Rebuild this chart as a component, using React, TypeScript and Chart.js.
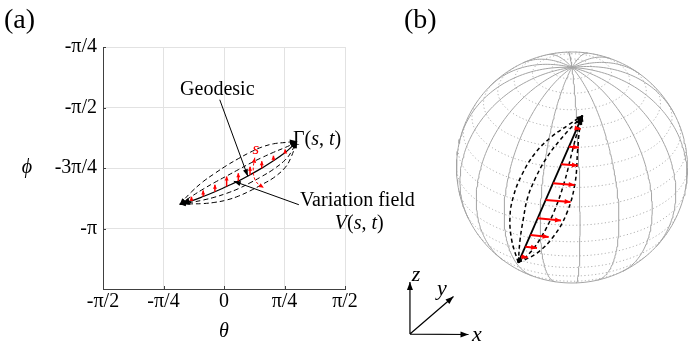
import React, { useEffect, useRef } from 'react';
import { Chart, registerables } from 'chart.js';

Chart.register(...registerables);

const SERIF = '"Liberation Serif", "Times New Roman", serif';
const PI4 = Math.PI / 4;

// ---------- Panel (a): axes ----------
const xTickUnits = [-2, -1, 0, 1, 2]; // multiples of pi/4
const xTickLabels = ['-π/2', '-π/4', '0', 'π/4', 'π/2'];
const yTickUnits = [-5, -4, -3, -2, -1];
const yTickLabels = ['', '-π', '-3π/4', '-π/2', '-π/4'];

// ---------- Panel (a): curves (theta, phi) ----------
const curveTheta = [-0.574, -0.422, -0.27, -0.118, 0.034, 0.186, 0.338, 0.49, 0.642, 0.794, 0.87, 0.946];
const geodesicPhi = [-2.826, -2.783, -2.727, -2.665, -2.596, -2.527, -2.445, -2.358, -2.263, -2.155, -2.088, -2.008];
const upperOuterPhi = [-2.826, -2.666, -2.532, -2.425, -2.324, -2.235, -2.153, -2.085, -2.042, -2.025, -2.017, -2.008];
const upperInnerPhi = [-2.826, -2.725, -2.63, -2.542, -2.46, -2.378, -2.296, -2.222, -2.153, -2.09, -2.055, -2.008];
const lowerInnerPhi = [-2.826, -2.802, -2.772, -2.734, -2.685, -2.625, -2.549, -2.466, -2.373, -2.252, -2.153, -2.008];
const lowerOuterPhi = [-2.826, -2.822, -2.818, -2.802, -2.772, -2.722, -2.653, -2.572, -2.484, -2.35, -2.218, -2.008];

// variation field vectors (red)
const redArrowTheta = [-0.422, -0.27, -0.118, 0.034, 0.186, 0.338, 0.49, 0.642, 0.794];
const redArrowBasePhi = [-2.783, -2.727, -2.665, -2.596, -2.527, -2.445, -2.358, -2.263, -2.155];
const redArrowTipPhi = [-2.731, -2.649, -2.574, -2.466, -2.423, -2.341, -2.267, -2.198, -2.116];

// red dashed "s" direction
const sCurveTheta = [0.4, 0.383, 0.381, 0.4, 0.452, 0.517];
const sCurvePhi = [-2.222, -2.32, -2.411, -2.502, -2.573, -2.612];

// annotation pointers
const geodesicPointerTheta = [-0.055, 0.309];
const geodesicPointerPhi = [-1.47, -2.463];
const variationPointerTheta = [0.972, 0.127];
const variationPointerPhi = [-2.833, -2.528];

// ---------- Panel (b): sphere ----------
const meridianLons = [0, 20, 40, 60, 80, 100, 120, 140, 160, 180, 200, 220, 240, 260, 280, 300, 320, 340];
const parallelLats = [-80, -70, -60, -50, -40, -30, -20, -10, 0, 10, 20, 30, 40, 50, 60, 70, 80];
const VIEW_EL = 30;
const VIEW_AZ = 4;

// curves on the sphere (projected, sphere radius = 1)
const geoU = [-0.465, -0.187, 0.091];
const geoV = [-0.824, -0.187, 0.45];
const outerLeftU = [-0.465, -0.522, -0.537, -0.508, -0.435, -0.32, -0.176, -0.032, 0.091];
const outerLeftV = [-0.824, -0.628, -0.426, -0.253, -0.065, 0.123, 0.267, 0.368, 0.45];
const innerLeftU = [-0.465, -0.45, -0.42, -0.385, -0.316, -0.221, -0.104, 0.013, 0.091];
const innerLeftV = [-0.824, -0.628, -0.437, -0.264, -0.091, 0.082, 0.238, 0.368, 0.45];
const outerRightU = [-0.465, -0.306, -0.162, -0.046, 0.026, 0.049, 0.065, 0.091];
const outerRightV = [-0.824, -0.743, -0.599, -0.397, -0.137, 0.152, 0.325, 0.45];
const innerRightU = [-0.465, -0.368, -0.264, -0.162, -0.069, 0.005, 0.051, 0.091];
const innerRightV = [-0.824, -0.743, -0.599, -0.397, -0.137, 0.152, 0.325, 0.45];

const redBaseU = [0.042, -0.027, -0.094, -0.165, -0.229, -0.297, -0.36, -0.404, -0.442];
const redBaseV = [0.339, 0.18, 0.028, -0.137, -0.281, -0.44, -0.584, -0.686, -0.772];
const redTipU = [0.074, 0.06, 0.051, 0.023, -0.012, -0.095, -0.202, -0.303, -0.384];
const redTipV = [0.333, 0.173, 0.017, -0.152, -0.299, -0.459, -0.602, -0.697, -0.779];

// coordinate triad (x, y, z)
const triadLabels = ['x', 'y', 'z'];
const triadOriginU = -1.403;
const triadOriginV = -1.442;
const triadTipU = [-0.896, -1.026, -1.403];
const triadTipV = [-1.446, -1.117, -0.991];
const triadLabelU = [-0.823, -1.126, -1.351];
const triadLabelV = [-1.45, -1.052, -0.931];

type P = { x: number | null; y: number | null };
const GAP: P = { x: null, y: null };

function pts(xs: number[], ys: number[]): P[] {
  return xs.map((x, i) => ({ x, y: ys[i] }));
}
function segs(x0: number[], y0: number[], x1: number[], y1: number[]): P[] {
  const out: P[] = [];
  x0.forEach((_, i) => {
    out.push({ x: x0[i], y: y0[i] }, { x: x1[i], y: y1[i] }, GAP);
  });
  return out;
}

// orthographic view of a sphere point; depth > 0 means facing the viewer
function project(latDeg: number, lonDeg: number) {
  const la = (latDeg * Math.PI) / 180;
  const lo = ((lonDeg + VIEW_AZ) * Math.PI) / 180;
  const e = (VIEW_EL * Math.PI) / 180;
  return {
    x: Math.cos(la) * Math.sin(lo),
    y: Math.sin(la) * Math.cos(e) - Math.cos(la) * Math.cos(lo) * Math.sin(e),
    depth: Math.cos(la) * Math.cos(lo) * Math.cos(e) + Math.sin(la) * Math.sin(e),
  };
}

function head(ctx: CanvasRenderingContext2D, from: any, to: any, len: number, half: number, color: string) {
  const dx = to.x - from.x;
  const dy = to.y - from.y;
  const d = Math.hypot(dx, dy) || 1;
  const ux = dx / d;
  const uy = dy / d;
  const bx = to.x - ux * len;
  const by = to.y - uy * len;
  ctx.save();
  ctx.fillStyle = color;
  ctx.beginPath();
  ctx.moveTo(to.x, to.y);
  ctx.lineTo(bx - uy * half, by + ux * half);
  ctx.lineTo(bx + uy * half, by - ux * half);
  ctx.closePath();
  ctx.fill();
  ctx.restore();
}

const arrowPlugin = {
  id: 'arrowHeads',
  afterDatasetsDraw(chart: any) {
    const ctx = chart.ctx;
    chart.data.datasets.forEach((ds: any, i: number) => {
      if (!ds.arrowEnd && !ds.arrowStart) return;
      const meta = chart.getDatasetMeta(i);
      const runs: any[][] = [];
      let cur: any[] = [];
      meta.data.forEach((el: any, j: number) => {
        const d = ds.data[j];
        if (d && d.x != null && d.y != null) cur.push({ x: el.x, y: el.y });
        else {
          if (cur.length) runs.push(cur);
          cur = [];
        }
      });
      if (cur.length) runs.push(cur);
      runs.forEach((run) => {
        if (run.length < 2) return;
        const col = ds.arrowColor || ds.borderColor;
        if (ds.arrowEnd) head(ctx, run[run.length - 2], run[run.length - 1], ds.arrowLen, ds.arrowHalf, col);
        if (ds.arrowStart) head(ctx, run[1], run[0], ds.arrowStartLen || ds.arrowLen, ds.arrowStartHalf || ds.arrowHalf, col);
      });
    });
  },
};

type Seg = [string, boolean];
function drawRich(ctx: CanvasRenderingContext2D, parts: Seg[], x: number, y: number, size: number, align: 'left' | 'center', color: string) {
  ctx.save();
  ctx.fillStyle = color;
  ctx.textBaseline = 'middle';
  ctx.textAlign = 'left';
  const fonts = parts.map(([, it]) => `${it ? 'italic ' : ''}${size}px ${SERIF}`);
  const ws = parts.map(([t], i) => {
    ctx.font = fonts[i];
    return ctx.measureText(t).width;
  });
  const total = ws.reduce((a, b) => a + b, 0);
  let cx = align === 'center' ? x - total / 2 : x;
  parts.forEach(([t], i) => {
    ctx.font = fonts[i];
    ctx.fillText(t, cx, y);
    cx += ws[i];
  });
  ctx.restore();
}

const textPluginA = {
  id: 'textA',
  afterDraw(chart: any) {
    const ctx = chart.ctx;
    const xs = chart.scales.x;
    const ys = chart.scales.y;
    const area = chart.chartArea;
    // inward tick marks
    ctx.save();
    ctx.strokeStyle = '#404040';
    ctx.lineWidth = 1;
    ctx.beginPath();
    xTickUnits.forEach((k) => {
      const px = Math.round(xs.getPixelForValue(k * PI4)) + 0.5;
      ctx.moveTo(px, area.bottom);
      ctx.lineTo(px, area.bottom - 3);
    });
    yTickUnits.forEach((k) => {
      const py = Math.round(ys.getPixelForValue(k * PI4)) + 0.5;
      ctx.moveTo(area.left, py);
      ctx.lineTo(area.left + 3, py);
    });
    ctx.stroke();
    ctx.restore();

    const X = (v: number) => xs.getPixelForValue(v);
    const Y = (v: number) => ys.getPixelForValue(v);
    drawRich(ctx, [['(a)', false]], 4, 21, 28, 'left', '#000');
    drawRich(ctx, [['θ', true]], (area.left + area.right) / 2, area.bottom + 43, 20, 'center', '#000');
    drawRich(ctx, [['ϕ', true]], 27, Y(-3 * PI4), 20, 'center', '#000');
    drawRich(ctx, [['Geodesic', false]], X(-0.087), Y(-1.34), 20, 'center', '#000');
    drawRich(ctx, [['Γ(', false], ['s', true], [', ', false], ['t', true], [')', false]], X(0.896), Y(-1.995), 20, 'left', '#000');
    drawRich(ctx, [['Variation field', false]], X(0.985), Y(-2.787), 20, 'left', '#000');
    drawRich(ctx, [['V', true], ['(', false], ['s', true], [', ', false], ['t', true], [')', false]], X(1.439), Y(-3.086), 20, 'left', '#000');
    drawRich(ctx, [['s', true]], X(0.413), Y(-2.112), 17, 'center', '#ff0000');
  },
};

const textPluginB = {
  id: 'textB',
  afterDraw(chart: any) {
    const ctx = chart.ctx;
    const xs = chart.scales.x;
    const ys = chart.scales.y;
    drawRich(ctx, [['(b)', false]], 4, 21, 28, 'left', '#000');
    triadLabels.forEach((t, i) => {
      drawRich(ctx, [[t, true]], xs.getPixelForValue(triadLabelU[i]), ys.getPixelForValue(triadLabelV[i]), 22, 'center', '#000');
    });
  },
};

function configA(): any {
  const dashed = (data: P[]) => ({
    data,
    borderColor: '#000',
    borderWidth: 1,
    borderDash: [5, 3],
    tension: 0.4,
    arrowEnd: true,
    arrowLen: 7,
    arrowHalf: 2.5,
    arrowStart: true,
    arrowStartLen: 6,
    arrowStartHalf: 2.2,
  });
  return {
    type: 'scatter',
    data: {
      datasets: [
        { data: segs(redArrowTheta, redArrowBasePhi, redArrowTheta, redArrowTipPhi), borderColor: '#ff0000', borderWidth: 1.5, arrowEnd: true, arrowLen: 4, arrowHalf: 2 },
        { data: pts(sCurveTheta, sCurvePhi), borderColor: '#ff0000', borderWidth: 1, borderDash: [3, 2], tension: 0.4, arrowEnd: true, arrowStart: true, arrowLen: 5, arrowHalf: 2.2 },
        { data: pts(curveTheta, geodesicPhi), borderColor: '#000', borderWidth: 1.2, tension: 0.4, arrowStart: true, arrowStartLen: 10, arrowStartHalf: 3.5, arrowEnd: true, arrowLen: 7, arrowHalf: 2.5 },
        dashed(pts(curveTheta, upperOuterPhi)),
        dashed(pts(curveTheta, upperInnerPhi)),
        dashed(pts(curveTheta, lowerInnerPhi)),
        dashed(pts(curveTheta, lowerOuterPhi)),
        { data: pts(geodesicPointerTheta, geodesicPointerPhi), borderColor: '#000', borderWidth: 1, arrowEnd: true, arrowLen: 7, arrowHalf: 2.5 },
        { data: pts(variationPointerTheta, variationPointerPhi), borderColor: '#000', borderWidth: 1, arrowEnd: true, arrowLen: 7, arrowHalf: 2.5 },
      ].map((d: any) => ({ showLine: true, pointRadius: 0, pointHoverRadius: 0, spanGaps: false, clip: false, ...d })),
    },
    options: {
      animation: false,
      responsive: false,
      devicePixelRatio: 1,
      events: [],
      layout: { padding: { left: 0, top: 47, right: 343, bottom: 0 } },
      plugins: { legend: { display: false }, tooltip: { enabled: false } },
      scales: {
        x: {
          type: 'linear',
          min: -2 * PI4,
          max: 2 * PI4,
          afterBuildTicks: (s: any) => {
            s.ticks = xTickUnits.map((k) => ({ value: k * PI4 }));
          },
          afterFit: (s: any) => {
            s.height = 59;
          },
          ticks: {
            callback: (_v: any, i: number) => xTickLabels[i],
            font: { family: SERIF, size: 20 },
            color: '#000',
            padding: 1,
            maxRotation: 0,
            autoSkip: false,
          },
          grid: { color: '#e2e2e2', drawTicks: false },
          border: { color: '#404040', width: 1 },
        },
        y: {
          type: 'linear',
          min: -5 * PI4,
          max: -1 * PI4,
          afterBuildTicks: (s: any) => {
            s.ticks = yTickUnits.map((k) => ({ value: k * PI4 }));
          },
          afterFit: (s: any) => {
            s.width = 103;
          },
          ticks: {
            callback: (_v: any, i: number) => yTickLabels[i],
            font: { family: SERIF, size: 20 },
            color: '#000',
            padding: 6,
            autoSkip: false,
          },
          grid: { color: '#e2e2e2', drawTicks: false },
          border: { color: '#404040', width: 1 },
        },
      },
    },
    plugins: [arrowPlugin, textPluginA],
  };
}

function configB(): any {
  // only the hemisphere facing the viewer is drawn (opaque sphere)
  const meridians: P[] = [];
  meridianLons.forEach((lon) => {
    for (let lat = -90; lat <= 90; lat += 1.5) {
      const p = project(lat, lon);
      meridians.push(p.depth >= 0 ? { x: p.x, y: p.y } : GAP);
    }
    meridians.push(GAP);
  });
  const parallels: P[] = [];
  parallelLats.forEach((lat) => {
    for (let lon = -180; lon <= 180; lon += 1.5) {
      const p = project(lat, lon - VIEW_AZ);
      parallels.push(p.depth >= 0 ? { x: p.x, y: p.y } : GAP);
    }
    parallels.push(GAP);
  });
  const limb: P[] = [];
  for (let a = 0; a <= 360; a += 2) {
    limb.push({ x: Math.cos((a * Math.PI) / 180), y: Math.sin((a * Math.PI) / 180) });
  }
  const dashedB = (data: P[]) => ({
    data,
    borderColor: '#000',
    borderWidth: 1.5,
    borderDash: [4, 3],
    tension: 0.4,
    arrowEnd: true,
    arrowLen: 6,
    arrowHalf: 2.2,
  });
  return {
    type: 'scatter',
    data: {
      datasets: [
        { data: segs(redBaseU, redBaseV, redTipU, redTipV), borderColor: '#ff0000', borderWidth: 2, arrowEnd: true, arrowLen: 6, arrowHalf: 2.5 },
        { data: pts(geoU, geoV), borderColor: '#000', borderWidth: 1.8, tension: 0, arrowEnd: true, arrowLen: 9, arrowHalf: 3.5, arrowStart: true, arrowStartLen: 5, arrowStartHalf: 2.5 },
        dashedB(pts(outerLeftU, outerLeftV)),
        dashedB(pts(innerLeftU, innerLeftV)),
        dashedB(pts(innerRightU, innerRightV)),
        dashedB(pts(outerRightU, outerRightV)),
        {
          data: segs(triadTipU.map(() => triadOriginU), triadTipV.map(() => triadOriginV), triadTipU, triadTipV),
          borderColor: '#000',
          borderWidth: 1.2,
          arrowEnd: true,
          arrowLen: 8,
          arrowHalf: 3,
        },
        { data: meridians, borderColor: '#a4a4a4', borderWidth: 1 },
        { data: limb, borderColor: '#a4a4a4', borderWidth: 1 },
        { data: parallels, borderColor: '#b0b0b0', borderWidth: 1, borderDash: [1.2, 2.4] },
      ].map((d: any) => ({ showLine: true, pointRadius: 0, pointHoverRadius: 0, spanGaps: false, clip: false, ...d })),
    },
    options: {
      animation: false,
      responsive: false,
      devicePixelRatio: 1,
      events: [],
      layout: { padding: 0 },
      plugins: { legend: { display: false }, tooltip: { enabled: false } },
      scales: {
        x: { type: 'linear', display: false, min: -1.4892, max: 1.0043 },
        y: { type: 'linear', display: false, min: -1.5628, max: 1.4502 },
      },
    },
    plugins: [arrowPlugin, textPluginB],
  };
}

export default function App() {
  const refA = useRef<HTMLCanvasElement>(null);
  const refB = useRef<HTMLCanvasElement>(null);
  useEffect(() => {
    const a = new Chart(refA.current as HTMLCanvasElement, configA());
    const b = new Chart(refB.current as HTMLCanvasElement, configB());
    return () => {
      a.destroy();
      b.destroy();
    };
  }, []);
  return (
    <div style={{ position: 'fixed', left: 0, top: 0, width: 688, height: 348, background: '#fff', overflow: 'hidden' }}>
      <canvas ref={refA} width={688} height={348} style={{ position: 'absolute', left: 0, top: 0, width: 688, height: 348 }} />
      <canvas ref={refB} width={288} height={348} style={{ position: 'absolute', left: 400, top: 0, width: 288, height: 348 }} />
    </div>
  );
}
